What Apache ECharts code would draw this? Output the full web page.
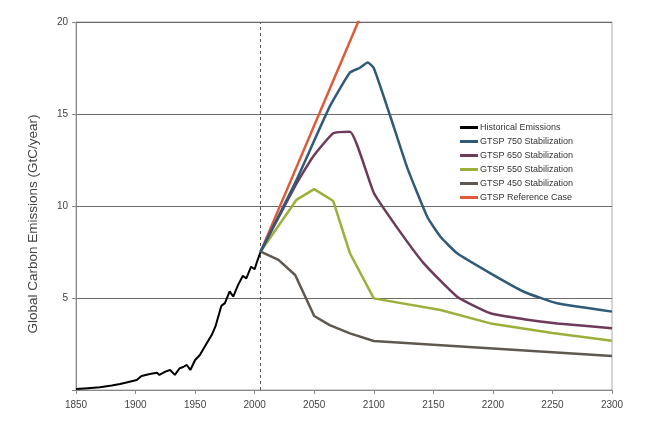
<!DOCTYPE html>
<html>
<head>
<meta charset="utf-8">
<script src="https://cdn.jsdelivr.net/npm/echarts@6/dist/echarts.min.js"></script>
<style>
  html, body { margin: 0; padding: 0; background: #fff; }
  #main { width: 664px; height: 428px; }
</style>
</head>
<body>
<div id="main"></div>
<script>
// 数据 (year, GtC/year)
var seriesNames = ['Historical Emissions', 'GTSP 750 Stabilization', 'GTSP 650 Stabilization',
  'GTSP 550 Stabilization', 'GTSP 450 Stabilization', 'GTSP Reference Case'];
var xTicks = [1850, 1900, 1950, 2000, 2050, 2100, 2150, 2200, 2250, 2300];
var yTicks = [0, 5, 10, 15, 20];
var todayYear = 2005;

var historical = [
  [1850, 0.05], [1860, 0.1], [1870, 0.15], [1880, 0.25], [1887, 0.33], [1895, 0.45],
  [1901, 0.54], [1905, 0.76], [1912, 0.87], [1918, 0.94], [1920, 0.82], [1925, 1.0],
  [1929, 1.09], [1933, 0.82], [1937, 1.18], [1940, 1.25], [1943, 1.36], [1946, 1.09],
  [1950, 1.63], [1954, 1.9], [1960, 2.57], [1964, 3.0], [1967, 3.44], [1972, 4.57],
  [1975, 4.72], [1979, 5.36], [1982, 5.08], [1986, 5.7], [1990, 6.2], [1993, 6.07],
  [1997, 6.7], [2000, 6.56], [2002, 6.98], [2005, 7.52]
];
var gtsp750 = [
  [2005, 7.52], [2035, 11.4], [2063, 15.4], [2080, 17.25], [2088, 17.5], [2095, 17.8],
  [2100, 17.5], [2114, 14.85], [2128, 12.1], [2145, 9.4], [2156, 8.33], [2170, 7.43],
  [2198, 6.34], [2226, 5.34], [2254, 4.71], [2300, 4.26]
];
var gtsp650 = [
  [2005, 7.52], [2035, 11.2], [2049, 12.68], [2066, 13.95], [2080, 14.04], [2100, 10.72],
  [2119, 8.88], [2142, 6.88], [2170, 5.07], [2198, 4.17], [2226, 3.85], [2254, 3.62], [2300, 3.35]
];
var gtsp550 = [
  [2005, 7.52], [2035, 10.33], [2050, 10.92], [2066, 10.27], [2080, 7.43], [2100, 4.98],
  [2156, 4.35], [2198, 3.62], [2250, 3.1], [2300, 2.68]
];
var gtsp450 = [
  [2005, 7.52], [2020, 7.07], [2034, 6.25], [2050, 4.02], [2063, 3.53], [2080, 3.08],
  [2100, 2.66], [2200, 2.25], [2300, 1.85]
];
var reference = [[2005, 7.52], [2100, 22.0]];

var colors = ['#000000', '#2f5b78', '#6d3a5a', '#9bb03a', '#5f5850', '#e05a3a'];
var smoothing = [false, 0.15, 0.15, false, false, false];
var dataList = [historical, gtsp750, gtsp650, gtsp550, gtsp450, reference];

var chart = echarts.init(document.getElementById('main'));

var series = dataList.map(function (d, i) {
  var s = {
    name: seriesNames[i],
    type: 'line',
    data: d,
    showSymbol: false,
    symbol: 'none',
    smooth: smoothing[i],
    color: colors[i],
    lineStyle: { width: i === 0 ? 2 : 2.5, color: colors[i] },
    z: i === 0 ? 5 : 10 - i
  };
  if (i === 0) {
    s.markLine = {
      silent: true,
      symbol: 'none',
      label: { show: false },
      lineStyle: { color: '#555', type: [3, 3], width: 1 },
      data: [[{ coord: [todayYear, 0] }, { coord: [todayYear, 20] }]]
    };
  }
  return s;
});

chart.setOption({
  backgroundColor: '#fff',
  animation: false,
  textStyle: { fontFamily: 'Liberation Sans, Arial, sans-serif' },
  grid: {
    left: 76, right: 52, top: 22, bottom: 38,
    show: true, borderColor: '#aaa', borderWidth: 1
  },
  legend: {
    orient: 'vertical',
    left: 455, top: 118,
    icon: 'rect',
    itemWidth: 18, itemHeight: 3, itemGap: 5,
    data: seriesNames,
    textStyle: { fontSize: 9, color: '#333', padding: [0, 0, 0, -3] }
  },
  xAxis: {
    type: 'value',
    min: xTicks[0], max: xTicks[xTicks.length - 1], interval: 50,
    axisLine: { lineStyle: { color: '#888' } },
    axisTick: { show: true, length: 4, lineStyle: { color: '#888' } },
    axisLabel: { color: '#444', fontSize: 10, margin: 10, formatter: function (v) { return String(v); } },
    splitLine: { show: false }
  },
  yAxis: {
    type: 'value',
    min: yTicks[0], max: yTicks[yTicks.length - 1], interval: 5,
    name: 'Global Carbon Emissions (GtC/year)',
    nameLocation: 'middle', nameGap: 36,
    nameTextStyle: { fontSize: 13.5, color: '#444', padding: [0, 36, 0, 0] },
    axisLine: { show: true, lineStyle: { color: '#888' } },
    axisTick: { show: true, length: 4, lineStyle: { color: '#888' } },
    axisLabel: { color: '#444', fontSize: 10, formatter: function (v) { return v === 0 ? '' : String(v); } },
    splitLine: { show: true, lineStyle: { color: '#6a6a6a', width: 1 } }
  },
  series: series
});
</script>
</body>
</html>
